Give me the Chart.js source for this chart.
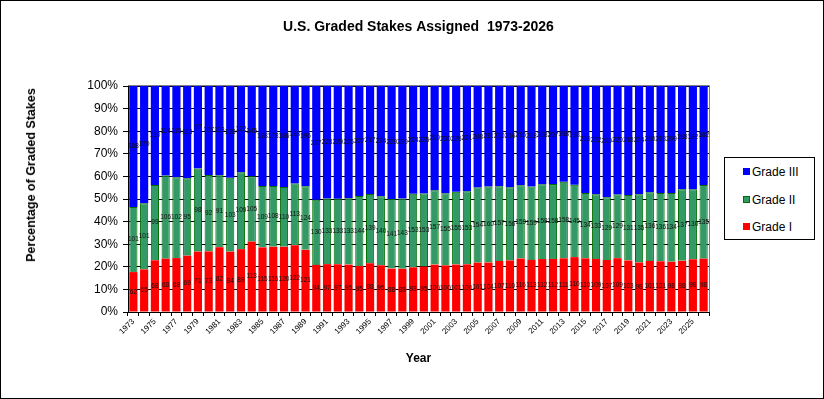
<!DOCTYPE html>
<html>
<head>
<meta charset="utf-8">
<script src="https://cdn.jsdelivr.net/npm/chart.js@4/dist/chart.umd.min.js"></script>
<style>
  html, body { margin: 0; padding: 0; background: #fff; }
  #wrap { position: relative; width: 824px; height: 399px; }
  #yTitle {
    position: absolute; left: 31px; top: 175px;
    transform: translate(-50%, -50%) rotate(-90deg);
    font: bold 12.5px "Liberation Sans", Arial, sans-serif; white-space: nowrap; color: #000;
  }
  #legend {
    position: absolute; left: 724px; top: 157px; width: 89px; height: 81px;
    border: 1px solid #000; background: #fff;
    font: 12px "Liberation Sans", Arial, sans-serif; color: #000;
  }
  .item { position: absolute; left: 18px; height: 14px; line-height: 14px; white-space: nowrap; }
  .sw { display: inline-block; width: 7px; height: 7px; margin-right: 2px; vertical-align: 1px; box-sizing: border-box; }
</style>
</head>
<body>
<div id="wrap">
  <canvas id="gradedChart" width="824" height="399"></canvas>
  <div id="yTitle">Percentage of Graded Stakes</div>
  <div id="legend">
    <div class="item" style="top:7px"><span class="sw" style="background:#0000ff"></span>Grade III</div>
    <div class="item" style="top:35px"><span class="sw" style="background:#339966;border:1px solid #007000"></span>Grade II</div>
    <div class="item" style="top:62px"><span class="sw" style="background:#ff0000"></span>Grade I</div>
  </div>
</div>
<script>
var years = ['1973','1974','1975','1976','1977','1978','1979','1980','1981','1982',
  '1983','1984','1985','1986','1987','1988','1989','1990','1991','1992',
  '1993','1994','1995','1996','1997','1998','1999','2000','2001','2002',
  '2003','2004','2005','2006','2007','2008','2009','2010','2011','2012',
  '2013','2014','2015','2016','2017','2018','2019','2020','2021','2022',
  '2023','2024','2025','2026'];

// number of races per grade each year
var gradeI = [62, 65, 68, 68, 68, 69, 71, 73, 82, 84, 89, 113, 115, 116, 120, 122, 121,
  94, 97, 97, 95, 95, 98, 95, 88, 88, 93, 95, 100, 100, 101, 100, 101, 104, 107,
  110, 116, 113, 112, 112, 111, 110, 110, 109, 107, 109, 103, 98, 101, 101, 98, 98, 98, 98];
var gradeII = [101, 101, 99, 106, 102, 95, 98, 92, 91, 103, 109, 105, 109, 108, 110, 113, 124,
  130, 133, 133, 133, 144, 139, 140, 141, 143, 153, 153, 157, 155, 155, 153, 154, 160, 157,
  156, 159, 159, 158, 158, 158, 145, 134, 133, 129, 129, 131, 135, 136, 136, 134, 137, 130, 135];
var gradeIII = [188, 179, 130, 114, 115, 113, 97, 107, 113, 128, 122, 145, 178, 178, 186, 178, 195,
  227, 228, 229, 225, 227, 217, 224, 229, 229, 224, 225, 220, 230, 225, 221, 208, 211, 210,
  216, 215, 218, 208, 207, 198, 198, 219, 222, 229, 220, 218, 214, 210, 213, 209, 198, 192, 182];

var fontFam = '"Liberation Sans", Arial, sans-serif';

function share(arr) {
  return arr.map(function(v, i) {
    return v / (gradeI[i] + gradeII[i] + gradeIII[i]) * 100;
  });
}

// white page with a thin frame, grey top/right plot border
var frame = {
  id: 'frame',
  beforeDraw: function(chart) {
    var ctx = chart.ctx;
    ctx.save();
    ctx.fillStyle = '#fff';
    ctx.fillRect(0, 0, chart.width, chart.height);
    ctx.restore();
  },
  afterDraw: function(chart) {
    var ctx = chart.ctx, a = chart.chartArea;
    ctx.save();
    ctx.strokeStyle = '#808080';
    ctx.lineWidth = 1;
    ctx.beginPath();
    ctx.moveTo(a.left, Math.round(a.top) - 0.5);
    ctx.lineTo(Math.round(a.right) + 0.5, Math.round(a.top) - 0.5);
    ctx.lineTo(Math.round(a.right) + 0.5, a.bottom);
    ctx.stroke();
    ctx.strokeStyle = '#000';
    ctx.strokeRect(0.5, 0.5, chart.width - 1, chart.height - 1);
    ctx.restore();
  }
};

// tiny count labels in the middle of each segment
var countLabels = {
  id: 'countLabels',
  afterDatasetsDraw: function(chart) {
    var ctx = chart.ctx;
    ctx.save();
    ctx.font = '6.5px ' + fontFam;
    ctx.fillStyle = '#111';
    ctx.textAlign = 'center';
    ctx.textBaseline = 'middle';
    chart.data.datasets.forEach(function(ds, di) {
      chart.getDatasetMeta(di).data.forEach(function(bar, i) {
        var p = bar.getCenterPoint();
        ctx.fillText(ds.counts[i], p.x, p.y);
      });
    });
    ctx.restore();
  }
};

var ctx = document.getElementById('gradedChart').getContext('2d');
var gradedChart = new Chart(ctx, {
  type: 'bar',
  data: {
    labels: years,
    datasets: [{
      label: 'Grade I',
      data: share(gradeI),
      counts: gradeI,
      backgroundColor: '#ff0000',
      borderWidth: 0
    }, {
      label: 'Grade II',
      data: share(gradeII),
      counts: gradeII,
      backgroundColor: '#339966',
      borderColor: '#007000',
      borderWidth: 1
    }, {
      label: 'Grade III',
      data: share(gradeIII),
      counts: gradeIII,
      backgroundColor: '#0000ff',
      borderWidth: 0
    }]
  },
  options: {
    responsive: false,
    animation: false,
    devicePixelRatio: 1,
    layout: { padding: { left: 0, right: 115, top: 0, bottom: 0 } },
    datasets: { bar: { barPercentage: 0.76, categoryPercentage: 1 } },
    plugins: {
      legend: { display: false },
      tooltip: { enabled: false },
      title: {
        display: true,
        text: 'U.S. Graded Stakes Assigned  1973-2026',
        fullSize: false,
        color: '#000',
        font: { family: fontFam, size: 14, weight: 'bold' },
        padding: { top: 19, bottom: 50.2 }
      }
    },
    scales: {
      x: {
        stacked: true,
        z: 1,
        afterFit: function(scale) { scale.height = 87; },
        grid: { offset: true, drawOnChartArea: false, drawTicks: true, tickLength: 4, color: '#000' },
        border: { color: '#000' },
        ticks: {
          autoSkip: false,
          maxRotation: 45,
          minRotation: 45,
          padding: 1,
          color: '#000',
          font: { family: fontFam, size: 8 },
          callback: function(v, i) { return i % 2 === 0 ? years[i] : ''; }
        },
        title: {
          display: true,
          text: 'Year',
          color: '#000',
          font: { family: fontFam, size: 12, weight: 'bold' },
          padding: { top: 0, bottom: 33 }
        }
      },
      y: {
        stacked: true,
        z: 1,
        min: 0,
        max: 100,
        afterFit: function(scale) { scale.width = 128; },
        grid: { color: '#000', tickLength: 5, drawTicks: true },
        border: { color: '#000' },
        ticks: {
          stepSize: 10,
          padding: 5,
          color: '#000',
          font: { family: fontFam, size: 12 },
          callback: function(v) { return v + '%'; }
        }
      }
    }
  },
  plugins: [frame, countLabels]
});
</script>
</body>
</html>
